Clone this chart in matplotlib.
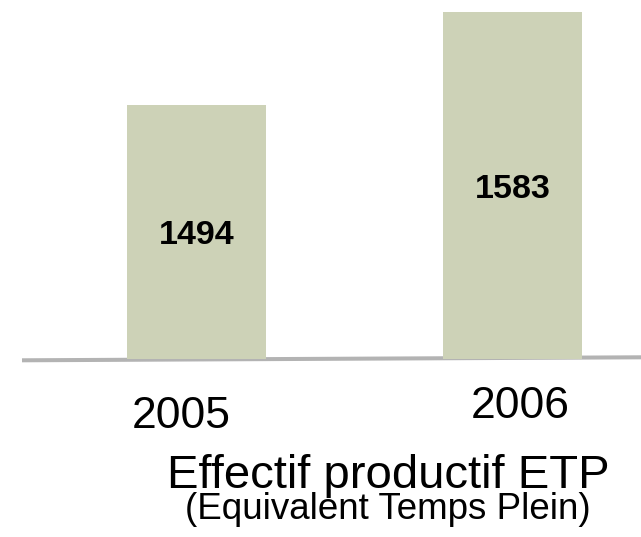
import matplotlib
matplotlib.use("Agg")
import matplotlib.pyplot as plt
from matplotlib.lines import Line2D

plt.rcParams["font.family"] = ["Liberation Sans", "DejaVu Sans"]

# ---- data ----
years = ["2005", "2006"]
etp = [1494, 1583]
title = "Effectif productif ETP"
subtitle = "(Equivalent Temps Plein)"

W, H = 641, 537
fig = plt.figure(figsize=(W / 100, H / 100), dpi=100)

def fx(px):
    return px / W

def fy(py):
    return 1 - py / H

# axes: bottom edge sits on the grey baseline, y axis not starting at zero
ax = fig.add_axes([0, fy(359), 1, 359 / H])
ax.patch.set_visible(False)
ylow = 1251
ax.set_ylim(ylow, ylow + 359 / 1.045)
ax.set_xlim(-196.5 / 316, (W - 196.5) / 316)
x = list(range(len(years)))
ax.bar(x, etp, width=0.44, color="#cdd2b7", zorder=2)
for xi, v in zip(x, etp):
    ax.text(xi, (ylow + v) / 2, str(v), ha="center", va="center_baseline",
            fontsize=24.5, fontweight="bold", color="black")
ax.axis("off")

# slightly tilted grey baseline
fig.add_artist(Line2D([fx(22), 1], [fy(360.3), fy(357.3)], color="#b3b3b3",
                      lw=2.9, zorder=-1, solid_capstyle="butt"))

# year labels (not centred exactly under the bars in the original)
fig.text(fx(181), fy(428), years[0], ha="center", va="baseline", fontsize=32)
fig.text(fx(520), fy(417.5), years[1], ha="center", va="baseline", fontsize=32)

fig.text(fx(388), fy(488.5), title, ha="center", va="baseline", fontsize=34)
fig.text(fx(387.5), fy(519), subtitle, ha="center", va="baseline", fontsize=26.5)

fig.savefig("out.png", dpi=100)
